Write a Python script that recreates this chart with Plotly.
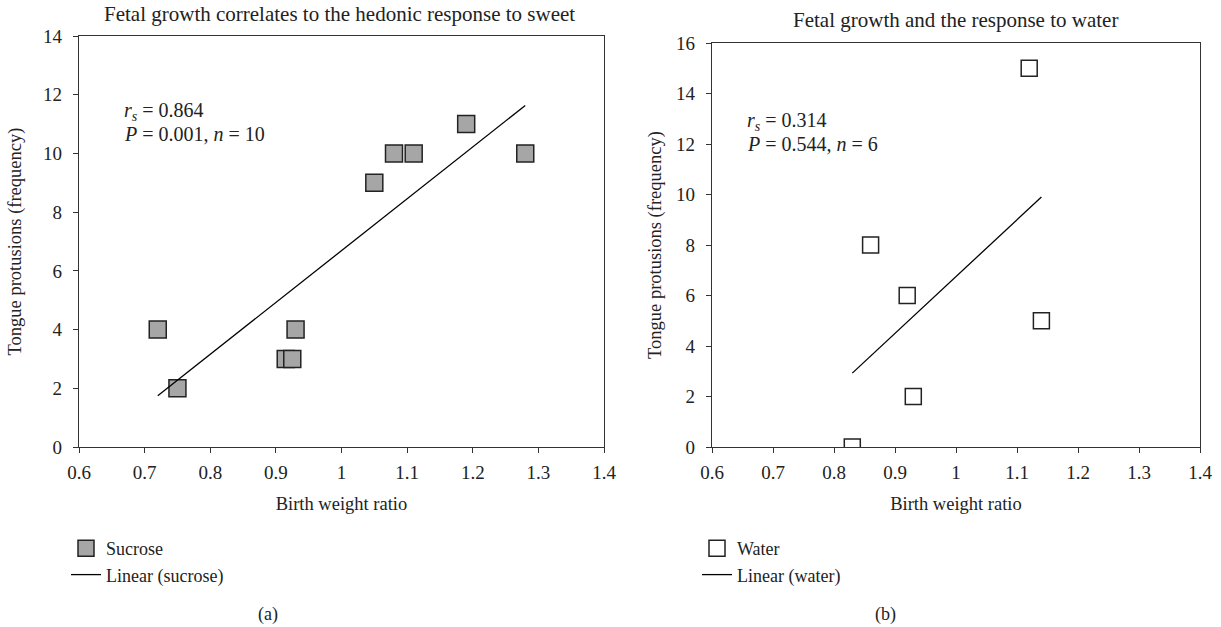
import numpy as np
import plotly.graph_objects as go

# Data
sucrose_x = [0.72, 0.75, 0.915, 0.925, 0.93, 1.05, 1.08, 1.11, 1.19, 1.28]
sucrose_y = [4, 2, 3, 3, 4, 9, 10, 10, 11, 10]
water_x = [0.83, 0.86, 0.92, 0.93, 1.12, 1.14]
water_y = [0, 8, 6, 2, 15, 5]
x_ticks = [0.6, 0.7, 0.8, 0.9, 1, 1.1, 1.2, 1.3, 1.4]
x_tick_labels = ["0.6", "0.7", "0.8", "0.9", "1", "1.1", "1.2", "1.3", "1.4"]

FONT = "Liberation Serif"
W, H = 1221, 627


def fit(xs, ys):
    m, b = np.polyfit(xs, ys, 1)
    x0, x1 = min(xs), max(xs)
    return [x0, x1], [m * x0 + b, m * x1 + b]


fig = go.Figure()

fig.add_trace(go.Scatter(
    x=sucrose_x, y=sucrose_y, mode="markers", name="Sucrose",
    marker=dict(symbol="square", size=17, color="#a6a6a6",
                line=dict(color="#222222", width=1.5)),
    xaxis="x", yaxis="y", legend="legend"))
lx, ly = fit(sucrose_x, sucrose_y)
fig.add_trace(go.Scatter(
    x=lx, y=ly, mode="lines", name="Linear (sucrose)",
    line=dict(color="black", width=1.3),
    xaxis="x", yaxis="y", legend="legend"))

fig.add_trace(go.Scatter(
    x=water_x, y=water_y, mode="markers", name="Water",
    marker=dict(symbol="square", size=16, color="white",
                line=dict(color="#222222", width=1.5)),
    xaxis="x2", yaxis="y2", legend="legend2"))
wx, wy = fit(water_x, water_y)
fig.add_trace(go.Scatter(
    x=wx, y=wy, mode="lines", name="Linear (water)",
    line=dict(color="black", width=1.3),
    xaxis="x2", yaxis="y2", legend="legend2"))

axis_common = dict(showgrid=False, zeroline=False, showline=True, linecolor="#333333",
                   linewidth=1.2, mirror=True, ticks="outside", ticklen=5, automargin=False,
                   tickcolor="#333333", tickfont=dict(family=FONT, size=19, color="#222"))
title_font = dict(family=FONT, size=18.5, color="#222")

fig.update_layout(
    width=W, height=H,
    margin=dict(l=0, r=0, t=0, b=0, autoexpand=False),
    plot_bgcolor="white", paper_bgcolor="white",
    font=dict(family=FONT, size=16, color="#222"),
    xaxis=dict(domain=[79 / W, 604 / W], range=[0.6, 1.4], tickvals=x_ticks,
               ticktext=x_tick_labels, anchor="y", ticklabelstandoff=3,
               title=dict(text="Birth weight ratio", font=title_font, standoff=15),
               **axis_common),
    yaxis=dict(domain=[180 / H, 591 / H], range=[0, 14], dtick=2, anchor="x", ticklabelstandoff=7,
               title=dict(text="Tongue protusions (frequency)", font=title_font, standoff=16),
               **axis_common),
    xaxis2=dict(domain=[712 / W, 1200 / W], range=[0.6, 1.4], tickvals=x_ticks,
                ticktext=x_tick_labels, anchor="y2", ticklabelstandoff=3,
                title=dict(text="Birth weight ratio", font=title_font, standoff=15),
                **axis_common),
    yaxis2=dict(domain=[180 / H, 584 / H], range=[0, 16], dtick=2, anchor="x2", ticklabelstandoff=7,
                title=dict(text="Tongue protusions (frequency)", font=title_font, standoff=9),
                **axis_common),
    legend=dict(x=66 / W, y=1 - 530 / H, xanchor="left", yanchor="top",
                font=dict(family=FONT, size=18, color="#222"), tracegroupgap=0, itemwidth=30,
                bgcolor="rgba(0,0,0,0)"),
    legend2=dict(x=697 / W, y=1 - 530 / H, xanchor="left", yanchor="top",
                 font=dict(family=FONT, size=18, color="#222"), tracegroupgap=0, itemwidth=30,
                 bgcolor="rgba(0,0,0,0)"),
    showlegend=True,
)

annotations = [
    dict(text="Fetal growth correlates to the hedonic response to sweet", x=339 / W, y=1 - 14 / H,
         font=dict(size=21)),
    dict(text="Fetal growth and the response to water", x=955 / W, y=1 - 20 / H,
         font=dict(size=21)),
    dict(text="<i>r<sub>s</sub></i> = 0.864", x=122 / W, y=1 - 111 / H, xanchor="left",
         font=dict(size=20)),
    dict(text="<i>P</i> = 0.001, <i>n</i> = 10", x=122 / W, y=1 - 134 / H, xanchor="left",
         font=dict(size=20)),
    dict(text="<i>r<sub>s</sub></i> = 0.314", x=745 / W, y=1 - 122 / H, xanchor="left",
         font=dict(size=20)),
    dict(text="<i>P</i> = 0.544, <i>n</i> = 6", x=745 / W, y=1 - 144 / H, xanchor="left",
         font=dict(size=20)),
    dict(text="(a)", x=268 / W, y=1 - 614 / H, font=dict(size=18)),
    dict(text="(b)", x=885 / W, y=1 - 614 / H, font=dict(size=18)),
]
for a in annotations:
    a.update(xref="paper", yref="paper", showarrow=False, font=dict(family=FONT, color="#222", **a["font"]))
    a.setdefault("xanchor", "center")
    a["yanchor"] = "middle"
fig.update_layout(annotations=annotations)

fig.write_html("out.html", config={"displayModeBar": False},
               post_script="document.body.style.margin='0';document.body.style.overflow='hidden';")
